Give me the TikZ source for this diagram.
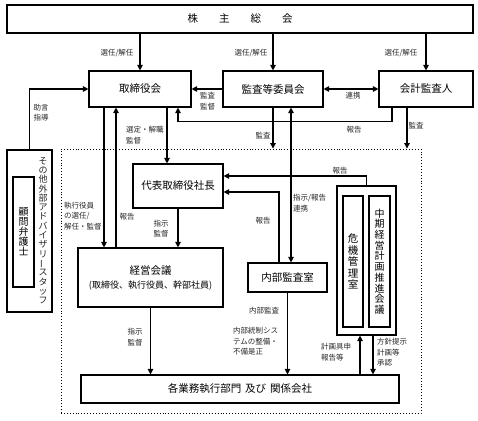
\documentclass[tikz,border=0pt]{standalone}
\usepackage{fontspec}
\setmainfont{Noto Sans CJK JP}
\usepackage{graphicx}
\usetikzlibrary{arrows.meta}
\newcommand{\vchoon}{\rotatebox[origin=c]{90}{ー}}
\begin{document}
\begin{tikzpicture}[x=1pt,y=-1pt,
  box/.style={draw, line width=1.1pt, inner sep=0pt, align=center, font=\fontsize{10.5}{12}\selectfont},
  lbl/.style={inner sep=0pt, align=center, font=\fontsize{7.5}{10.5}\selectfont, text=black!85},
  lbll/.style={lbl, align=left, anchor=west},
  arr/.style={line width=1.1pt, -{Triangle[length=5.5pt,width=5.5pt]}},
  darr/.style={line width=1.1pt, {Triangle[length=5.5pt,width=5.5pt]}-{Triangle[length=5.5pt,width=5.5pt]}},
  vt/.style={inner sep=0pt, align=center}
]
\useasboundingbox (0,0) rectangle (478,420);

% boxes
\node[box, minimum width=466pt, minimum height=28pt] (soukai) at (240,19) {株\hspace{21pt}主\hspace{21pt}総\hspace{21pt}会};
\node[box, minimum width=102pt, minimum height=36pt] (tori) at (140,89) {取締役会};
\node[box, minimum width=100pt, minimum height=36pt] (kansa) at (273,89) {監査等委員会};
\node[box, minimum width=94pt, minimum height=36pt] (kaikei) at (426,89) {会計監査人};
\node[draw, dotted, line width=0.9pt, minimum width=360pt, minimum height=264pt, inner sep=0pt] (exec) at (241,281) {};
\node[box, minimum width=90pt, minimum height=44pt] (daihyo) at (178,186) {代表取締役社長};
\node[box, minimum width=145pt, minimum height=59pt] (keiei) at (150.5,277.5) {経営会議\\[2pt]{\fontsize{9}{10}\selectfont (取締役、執行役員、幹部社員)}};
\node[box, minimum width=79pt, minimum height=29pt] (naibu) at (287.5,277.5) {内部監査室};
\node[box, minimum width=318pt, minimum height=28pt] (kaku) at (240,389) {各業務執行部門\hspace{4pt}及び\hspace{4pt}関係会社};
\node[box, minimum width=59pt, minimum height=149pt] (plan) at (366.5,260.5) {};
\node[box, minimum width=20pt, minimum height=131pt, font=\fontsize{10.5}{11.5}\selectfont] (kiki) at (353,261.5) {危\\機\\管\\理\\室};
\node[box, minimum width=21pt, minimum height=131pt, font=\fontsize{10}{10.7}\selectfont] (chuki) at (379.5,261.5) {中\\期\\経\\営\\計\\画\\推\\進\\会\\議};
\node[box, minimum width=45pt, minimum height=162pt] (adv) at (29.5,231) {};
\node[box, minimum width=21pt, minimum height=110pt, font=\fontsize{10}{10}\selectfont] (komon) at (23.5,232) {顧\\問\\弁\\護\\士};
\node[vt, font=\fontsize{9}{9.3}\selectfont, text=black!85] (advtext) at (43,230.5) {そ\\の\\他\\外\\部\\ア\\ド\\バ\\イ\\ザ\\リ\\\vchoon\\ス\\タ\\ッ\\フ};

% connectors
\draw[arr] (soukai.south -| tori.north) -- (tori.north);
\draw[arr] (soukai.south -| kansa.north) -- (kansa.north);
\draw[arr] (soukai.south -| kaikei.north) -- (kaikei.north);
\draw[arr] (kansa.west) -- (tori.east);
\draw[darr] (kansa.east) -- (kaikei.west);
\draw[arr] ([xshift=-34pt]kaikei.south) |- ([xshift=38pt,yshift=-14pt]tori.south) -- ([xshift=38pt]tori.south);
\draw[arr] ([xshift=-19pt]kaikei.south) -- ([xshift=-19pt]kaikei.south |- exec.north);
\draw[arr] (adv.north) |- (tori.west);
\draw[arr] ([xshift=-36pt]tori.south) -- ([xshift=-36pt]tori.south |- keiei.north);
\draw[arr] ([xshift=-24pt]tori.south |- keiei.north) -- ([xshift=-24pt]tori.south);
\draw[arr] ([xshift=27pt]tori.south) -- ([xshift=27pt]tori.south |- daihyo.north);
\draw[arr] (kansa.south) -- (kansa.south |- exec.north);
\draw[darr] ([xshift=18pt]kansa.south) -- ([xshift=18pt]kansa.south |- naibu.north);
\draw[arr] (daihyo.south) -- (daihyo.south |- keiei.north);
\draw[arr] (plan.north) |- ([yshift=10pt]daihyo.east);
\draw[arr] ([xshift=-8.5pt]naibu.north) |- ([yshift=-6pt]daihyo.east);
\draw[arr] (keiei.south) -- (keiei.south |- kaku.north);
\draw[arr] (naibu.south) -- (naibu.south |- kaku.north);
\draw[arr] ([xshift=-6.5pt]plan.south |- kaku.north) -- ([xshift=-6.5pt]plan.south);
\draw[arr] ([xshift=6.5pt]plan.south) -- ([xshift=6.5pt]plan.south |- kaku.north);

% labels
\node[lbl] (l1) at (117,53) {選任/解任};
\node[lbl] (l2) at (251,53) {選任/解任};
\node[lbl] (l3) at (401,53) {選任/解任};
\node[lbl] (l4) at (207.5,101) {監査\\監督};
\node[lbl] (l5) at (353,96) {連携};
\node[lbl] (l6) at (354,130) {報告};
\node[lbl] (l7) at (416,126) {監査};
\node[lbl] (l8) at (41,112.5) {助言\\指導};
\node[lbll] (l9) at (126,135) {選定・解職\\監督};
\node[lbl] (l10) at (263,136) {監査};
\node[lbll] (l11) at (64,216) {執行役員\\の選任/\\解任・監督};
\node[lbl] (l12) at (127,217) {報告};
\node[lbl] (l13) at (161,228.5) {指示\\監督};
\node[lbl] (l14) at (340,171) {報告};
\node[lbl] (l15) at (263,221) {報告};
\node[lbll] (l16) at (293,203) {指示/報告\\連携};
\node[lbl] (l17) at (135,337) {指示\\監督};
\node[lbl] (l18) at (264,311) {内部監査};
\node[lbll] (l19) at (233,341.5) {内部統制シス\\テムの整備・\\不備是正};
\node[lbll] (l20) at (321,352) {計画具申\\報告等};
\node[lbll] (l21) at (377,352.5) {方針提示\\計画等\\承認};
\end{tikzpicture}
\end{document}
